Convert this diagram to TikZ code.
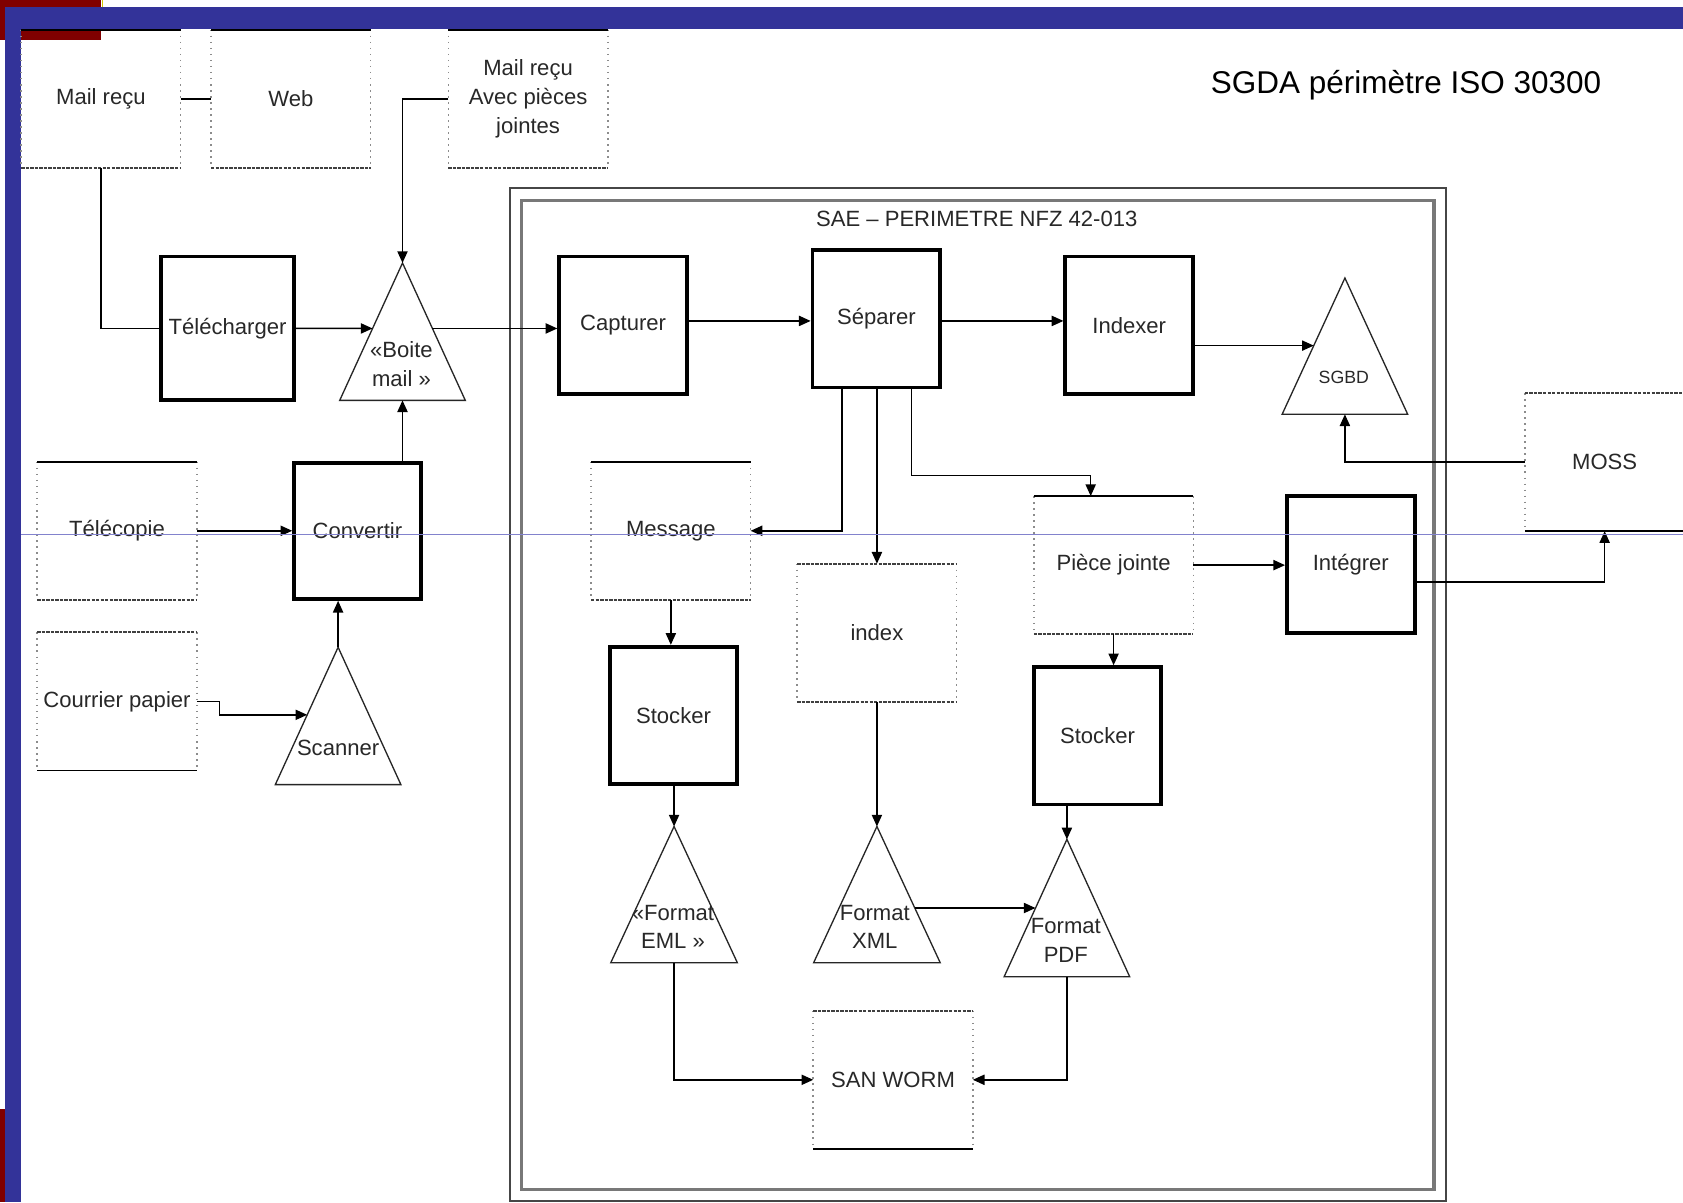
\documentclass[tikz,border=0pt]{standalone}
\usepackage{fontspec}
\setmainfont{Liberation Sans}
\usetikzlibrary{arrows.meta,calc}
\definecolor{bandblue}{RGB}{51,51,153}
\definecolor{bandred}{RGB}{128,0,0}
\definecolor{guide}{RGB}{130,130,205}
\definecolor{txt}{RGB}{40,40,40}
\definecolor{outerc}{RGB}{70,70,70}
\definecolor{innerc}{RGB}{120,120,120}
\newcommand\storeedges[3]{%
  \draw[dotside] (#1.north west) -- (#1.south west) (#1.north east) -- (#1.south east);
  \draw[#2] (#1.north west) -- (#1.north east);
  \draw[#3] (#1.south west) -- (#1.south east);}
\newcommand\mytri[5]{%
  \coordinate (#1A) at (#2,#3);
  \coordinate (#1L) at (#2-#5,#4);
  \coordinate (#1R) at (#2+#5,#4);
  \draw[triline] (#1A) -- (#1L) -- (#1R) -- cycle;}
\begin{document}
\begin{tikzpicture}[x=0.02cm,y=-0.02cm,
  every node/.style={font=\fontsize{11.7}{15.3}\selectfont, text=txt},
  proc/.style={draw=black, line width=2pt, minimum width=2.38cm, minimum height=2.56cm, inner sep=0pt},
  store/.style={minimum width=2.96cm, minimum height=2.56cm, inner sep=0pt, align=center},
  dotside/.style={draw=black!45, line width=0.8pt, dash pattern=on 0.8pt off 2.4pt},
  edgeS/.style={draw=black, line width=1pt},
  edgeD/.style={draw=black!75, line width=1.1pt, dash pattern=on 1.8pt off 0.6pt},
  triline/.style={draw=black!85, line width=0.7pt},
  conn/.style={draw=black, line width=0.8pt},
  arr/.style={conn, -{Triangle[length=6.2pt,width=5.4pt]}},
  lbl/.style={align=center, inner sep=0pt}
]
\useasboundingbox (0,0) rectangle (1568,1120);
\fill[white] (0,0) rectangle (1568,1120);
% slide decorations
\fill[bandred] (0,0) rectangle (94,37);
\fill[bandblue] (5,6.5) rectangle (1568,27);
\fill[bandblue] (5,6.5) rectangle (19.6,1120);
\fill[bandred] (0,1033) rectangle (4.7,1120);
\draw[yellow!60!olive, line width=0.6pt] (95.5,0) -- (95.5,6.5);

% SAE frames
\draw[outerc, line width=1.1pt] (475,175) rectangle (1347,1119);
\draw[innerc, line width=1.6pt] (486,187) rectangle (1336,1108);

% titles
\node[font=\fontsize{16.7}{20}\selectfont, text=black] (title) at (1310,79) {SGDA périmètre ISO 30300};
\node (saeT) at (910,204) {SAE – PERIMETRE NFZ 42-013};

% stores
\node[store] (mail) at (94,92) {Mail reçu};
\node[store] (web) at (271,92) {Web};
\node[store] (mailpj) at (492,92) {Mail reçu\\Avec pièces\\jointes};
\node[store] (telec) at (109,494.5) {Télécopie};
\node[store] (cour) at (109,653.5) {Courrier papier};
\node[store] (msg) at (625,494.5) {Message};
\node[store] (idx2) at (817,589.5) {index};
\node[store] (pj) at (1037.5,526.5) {Pièce jointe};
\node[store] (san) at (832,1006) {SAN WORM};
\node[store] (moss) at (1495,430.5) {MOSS};
\storeedges{mail}{edgeS}{edgeD}
\storeedges{web}{edgeS}{edgeD}
\storeedges{mailpj}{edgeS}{edgeD}
\storeedges{telec}{edgeS}{edgeD}
\storeedges{cour}{edgeD}{edgeS}
\storeedges{msg}{edgeS}{edgeD}
\storeedges{idx2}{edgeD}{edgeD}
\storeedges{pj}{edgeS}{edgeD}
\storeedges{san}{edgeD}{edgeS}
\storeedges{moss}{edgeD}{edgeS}

% processes
\node[proc, minimum width=2.48cm, minimum height=2.68cm] (tel) at (212,306) {Télécharger};
\node[proc, minimum width=2.36cm, minimum height=2.54cm] (conv) at (333,494.5) {Convertir};
\node[proc] (cap) at (580.5,303) {Capturer};
\node[proc] (sep) at (816.5,297) {Séparer};
\node[proc] (idx) at (1052,303) {Indexer};
\node[proc] (st1) at (627.5,666.5) {Stocker};
\node[proc] (int) at (1258.5,526) {Intégrer};
\node[proc] (st2) at (1022.5,685.5) {Stocker};

% triangles
\mytri{boite}{375}{245}{373}{58.5}
\mytri{scan}{315}{603}{731}{58.5}
\mytri{sgbd}{1253}{259}{386}{58.5}
\mytri{eml}{628}{770}{897}{59}
\mytri{xml}{817}{770}{897}{59}
\mytri{pdf}{994}{782}{910}{58.5}
\node[lbl] (boiteT) at (374,339.5) {«Boite\\mail »};
\node[lbl] (scanT) at (315,697) {Scanner};
\node[lbl, font=\fontsize{9.4}{11}\selectfont] (sgbdT) at (1252,352) {SGBD};
\node[lbl] (emlT) at (627,863.5) {«Format\\EML »};
\node[lbl] (xmlT) at (815,863.5) {Format\\XML};
\node[lbl] (pdfT) at (993,876.5) {Format\\PDF};

% connection points
\coordinate (boiteInL) at ($(boiteA)!0.4766!(boiteL)$);
\coordinate (boiteOutR) at ($(boiteA)!0.4766!(boiteR)$);
\coordinate (scanIn) at ($(scanA)!0.492!(scanL)$);
\coordinate (sgbdIn) at ($(sgbdA)!0.496!(sgbdL)$);
\coordinate (xmlOut) at ($(xmlA)!0.598!(xmlR)$);
\coordinate (pdfIn) at ($(pdfA)!0.5!(pdfL)$);
\coordinate (cs) at ($(cap.east)+(0,-4)$);
\coordinate (sepS1) at ($(sep.south west)+(29,0)$);
\coordinate (sepS3) at ($(sep.south west)+(94,0)$);
\coordinate (pjTop) at ($(pj.north west)+(53,0)$);
\coordinate (intOut) at ($(int.east)+(0,16)$);

% connectors
\draw[conn] (mail.east) -- (web.west);
\draw[conn] (mail.south) |- (tel.west);
\draw[arr] (mailpj.west) -| (boiteA);
\draw[arr] (tel.east) -- (boiteInL);
\draw[arr] (boiteOutR) -- (boiteOutR -| cap.west);
\draw[arr] (boiteA |- conv.north) -- (boiteA |- boiteL);
\draw[arr] (telec.east) -- (conv.west);
\draw[arr] (cour.east) -- ++(21,0) |- (scanIn);
\draw[arr] (scanA) -- (scanA |- conv.south);
\draw[arr] (cs) -- (cs -| sep.west);
\draw[arr] (cs -| sep.east) -- (cs -| idx.west);
\draw[arr] (sgbdIn -| idx.east) -- (sgbdIn);
\draw[arr] (moss.west) -| (sgbdA |- sgbdL);
\draw[arr] (sepS1) |- (msg.east);
\draw[arr] (sep.south -| idx2.north) -- (idx2.north);
\draw[arr] (sepS3) |- ($(pjTop)+(0,-19)$) -- (pjTop);
\draw[arr] (msg.south) -- (msg.south |- st1.north);
\draw[arr] (emlA |- st1.south) -- (emlA);
\draw[arr] (idx2.south) -- (xmlA);
\draw[arr] (xmlOut) -- (xmlOut -| pdfIn);
\draw[arr] (pj.east) -- (pj.east -| int.west);
\draw[arr] (intOut) -| (moss.south);
\draw[arr] (pj.south) -- (pj.south |- st2.north);
\draw[arr] (pdfA |- st2.south) -- (pdfA);
\draw[arr] (emlA |- emlL) |- (san.west);
\draw[arr] (pdfA |- pdfL) |- (san.east);

% thin guide line
\draw[guide, line width=0.5pt] (19.6,498) -- (1568,498);
\end{tikzpicture}
\end{document}
